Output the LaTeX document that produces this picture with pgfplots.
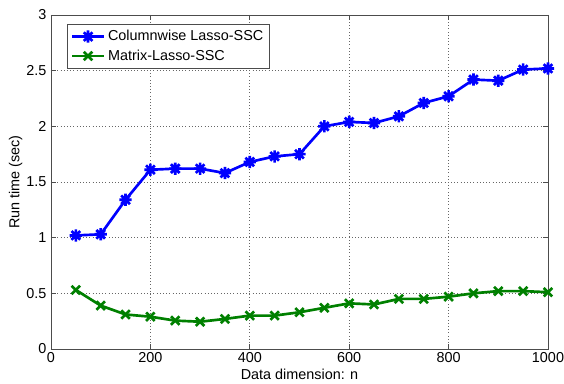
\documentclass[border=0pt]{standalone}
\usepackage{pgfplots}
\pgfplotsset{compat=1.18}
\usepackage{fontspec}
\setmainfont{Liberation Sans}
\definecolor{mblue}{rgb}{0,0,1}
\definecolor{mgreen}{rgb}{0,0.5,0}
\pgfdeclareplotmark{mstar}{%
 \pgfpathmoveto{\pgfqpoint{-\pgfplotmarksize}{0pt}}\pgfpathlineto{\pgfqpoint{\pgfplotmarksize}{0pt}}%
 \pgfpathmoveto{\pgfqpoint{0pt}{-\pgfplotmarksize}}\pgfpathlineto{\pgfqpoint{0pt}{\pgfplotmarksize}}%
 \pgfpathmoveto{\pgfqpoint{-0.707\pgfplotmarksize}{-0.707\pgfplotmarksize}}\pgfpathlineto{\pgfqpoint{0.707\pgfplotmarksize}{0.707\pgfplotmarksize}}%
 \pgfpathmoveto{\pgfqpoint{-0.707\pgfplotmarksize}{0.707\pgfplotmarksize}}\pgfpathlineto{\pgfqpoint{0.707\pgfplotmarksize}{-0.707\pgfplotmarksize}}%
 \pgfusepathqstroke}
\begin{document}
\begin{tikzpicture}
\useasboundingbox (-38.25pt,-26.25pt) rectangle (384.75pt,261.75pt);
\begin{axis}[
  at={(0,0)}, anchor=south west,
  scale only axis, width=372.75pt, height=250.5pt,
  xmin=0, xmax=1000, ymin=0, ymax=3,
  xtick={0,200,...,1000}, ytick={0,0.5,...,3},
  yticklabels={0,0.5,1,1.5,2,2.5,3},
  xticklabels={0,200,400,600,800,1000},
  tick align=inside, major tick length=3.75pt,
  xtick pos=both, ytick pos=both,
  grid=major,
  major grid style={dotted, gray!80!black, line width=0.5pt},
  axis line style={black!70, line width=0.6pt},
  tick style={black!70, line width=0.6pt},
  every tick label/.append style={font=\fontsize{10.8}{12}\selectfont},
  xticklabel style={yshift=1pt},
  /pgf/number format/assume math mode=true,
  xlabel={Data dimension: n},
  ylabel={Run time (sec)},
  label style={font=\fontsize{10.8}{12}\selectfont},
  xlabel style={yshift=2pt},
  ylabel style={yshift=-4pt},
  legend cell align=left,
  legend style={at={(0,1)}, anchor=north west, xshift=12pt, yshift=-6.75pt,
    font=\fontsize{10.8}{12}\selectfont, draw=black!70, line width=0.6pt,
    inner xsep=2.5pt, inner ysep=2.5pt, row sep=1.2pt},
  legend image code/.code={
    \draw[#1, mark=none] (0pt,0pt) -- (24pt,0pt);
    \draw[#1, only marks] plot coordinates {(12pt,0pt)};
  },
]
\addplot[mblue, line width=2pt, mark=mstar, mark size=4.6pt, mark options={line width=2pt}] coordinates {
(50,1.02) (100,1.03) (150,1.34) (200,1.61) (250,1.62) (300,1.62) (350,1.58) (400,1.68) (450,1.73) (500,1.75)
(550,2.00) (600,2.04) (650,2.03) (700,2.09) (750,2.21) (800,2.27) (850,2.42) (900,2.41) (950,2.51) (1000,2.52)};
\addlegendentry{Columnwise Lasso-SSC}
\addplot[mgreen, line width=2pt, mark=x, mark size=4.5pt, mark options={line width=2pt}] coordinates {
(50,0.53) (100,0.39) (150,0.31) (200,0.29) (250,0.255) (300,0.245) (350,0.27) (400,0.30) (450,0.30) (500,0.33)
(550,0.37) (600,0.41) (650,0.40) (700,0.45) (750,0.45) (800,0.47) (850,0.50) (900,0.52) (950,0.52) (1000,0.51)};
\addlegendentry{Matrix-Lasso-SSC}
\end{axis}
\end{tikzpicture}
\end{document}
